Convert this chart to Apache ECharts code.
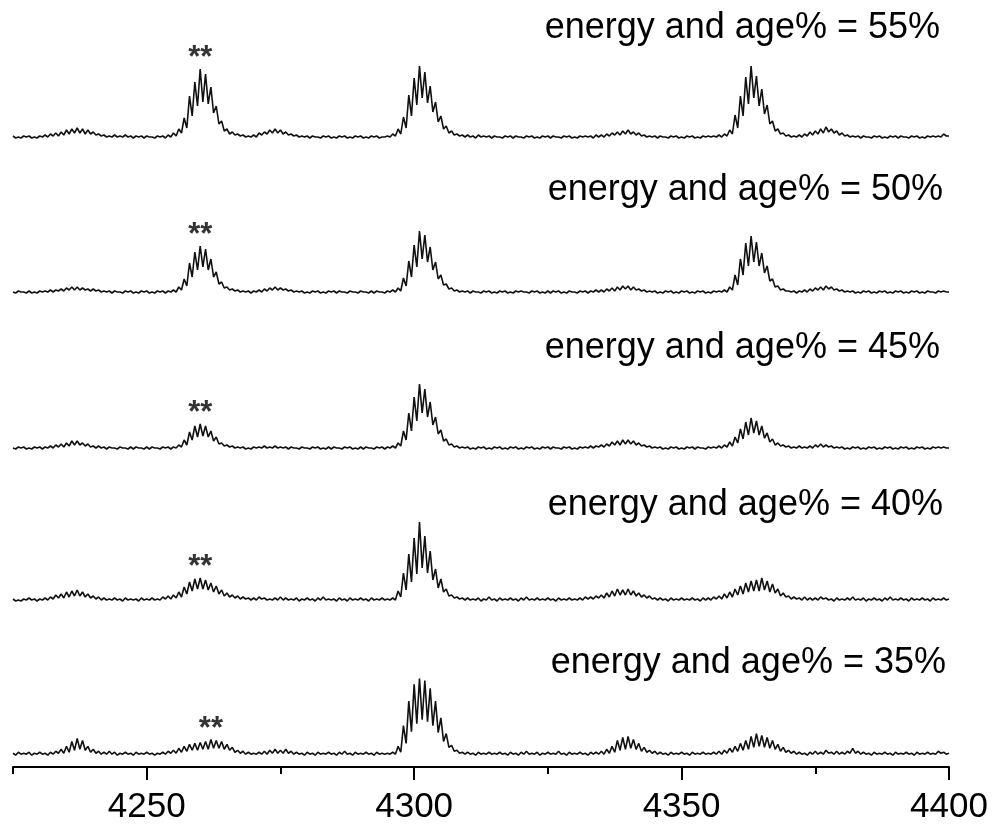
<!DOCTYPE html>
<html>
<head>
<meta charset="utf-8">
<title>energy and age% spectra</title>
<script src="https://cdn.jsdelivr.net/npm/echarts@6/dist/echarts.min.js"></script>
<style>
  html, body { margin: 0; padding: 0; background: #fff; }
  #chart { width: 993px; height: 825px; }
</style>
</head>
<body>
<div id="chart"></div>
<script>
// spectra are sampled from massStart every massStep (Da)
const massStart = 4225;
const massStep = 0.5;
const majorTicks = [4250, 4300, 4350, 4400];
const minorTicks = [4225, 4275, 4325, 4375];
const traceLabels = [
  "energy and age% = 55%",
  "energy and age% = 50%",
  "energy and age% = 45%",
  "energy and age% = 40%",
  "energy and age% = 35%"
];

// one line = 5 Da
const s55 = [
  2,0,1,0,2,1,2,0,1,0,
  2,1,3,1,4,2,5,2,6,3,
  8,4,9,5,10,5,9,4,8,4,
  6,3,4,2,3,1,2,1,3,1,
  2,1,3,1,2,0,2,1,2,0,
  2,1,1,0,2,1,2,0,3,1,
  5,2,9,5,20,10,42,22,56,32,
  69,36,64,34,51,25,32,14,17,7,
  9,4,6,3,4,2,3,1,2,1,
  3,1,5,3,6,4,8,5,9,5,
  8,4,6,3,4,2,3,1,2,1,
  2,0,2,1,1,0,2,1,2,0,
  1,0,2,1,2,0,1,0,2,1,
  2,0,1,0,2,1,2,0,1,1,
  2,1,4,2,9,4,21,10,43,22,
  60,33,72,40,66,35,52,26,36,16,
  22,9,12,5,7,3,4,2,3,1,
  3,1,2,0,3,1,2,1,2,0,
  2,1,1,0,2,1,2,0,2,1,
  1,0,2,1,2,0,1,0,2,1,
  2,0,2,1,1,0,2,1,2,0,
  1,0,2,1,2,1,2,0,3,1,
  3,1,4,2,5,3,6,3,7,4,
  8,4,6,3,5,2,3,1,2,1,
  2,0,2,1,1,0,2,1,2,0,
  1,0,2,1,2,0,1,0,2,1,
  2,1,2,1,3,1,4,2,8,4,
  23,10,42,22,61,34,72,40,62,32,
  49,24,33,14,17,7,9,4,5,2,
  3,1,2,1,3,1,4,2,6,3,
  7,4,9,5,11,6,9,5,7,3,
  5,2,3,1,2,1,2,0,2,1,
  1,0,2,1,2,0,1,0,2,1,
  2,0,2,1,1,0,2,1,2,0,
  1,0,2,1,2,1,2,1,4,2,
  2
];

const s50 = [
  1,0,2,1,1,0,2,0,1,0,
  2,1,2,1,3,1,3,2,4,2,
  5,3,6,3,6,3,5,3,4,2,
  4,2,3,1,2,1,2,0,2,1,
  1,0,2,1,2,0,1,0,2,1,
  2,0,1,0,2,1,2,0,2,1,
  3,1,6,3,14,7,30,16,41,23,
  47,26,44,23,34,16,21,9,11,5,
  6,3,4,2,3,1,2,1,2,0,
  2,1,3,1,4,2,5,3,6,3,
  5,3,4,2,3,1,2,1,2,0,
  1,0,2,1,2,0,1,0,2,1,
  2,0,2,1,1,0,2,1,1,0,
  2,1,1,0,2,0,2,1,1,0,
  2,1,3,1,5,2,15,7,32,16,
  48,26,62,34,58,31,46,23,31,14,
  18,8,9,4,5,2,3,1,2,1,
  2,0,2,1,1,0,2,1,2,0,
  1,0,2,1,2,0,1,0,2,1,
  2,1,1,0,2,1,2,0,1,0,
  2,0,2,1,2,0,1,0,2,1,
  1,0,2,1,2,0,2,1,3,1,
  3,1,4,2,5,2,6,3,7,4,
  7,3,6,3,4,2,3,1,2,1,
  2,0,1,0,2,1,2,0,1,0,
  2,1,2,0,1,0,2,1,2,0,
  1,0,2,1,2,1,3,1,6,3,
  18,8,34,18,50,27,57,31,51,27,
  40,20,27,12,14,6,7,3,4,2,
  2,1,2,0,2,1,3,1,4,2,
  5,3,6,3,7,4,6,3,4,2,
  3,1,2,1,2,0,1,0,2,1,
  2,0,1,0,2,1,2,0,1,0,
  2,1,2,0,1,0,2,1,2,0,
  1,0,2,1,1,0,2,1,2,1,
  1
];

const s45 = [
  1,0,2,1,2,0,1,0,2,1,
  2,0,2,1,3,1,4,2,5,2,
  6,3,8,4,8,4,6,3,5,2,
  3,1,3,1,2,0,2,1,1,0,
  2,1,1,0,2,0,2,1,1,0,
  2,0,2,1,1,0,2,1,2,0,
  2,1,4,2,9,4,17,9,23,12,
  25,13,23,12,18,8,12,5,6,3,
  4,2,3,1,2,1,2,0,1,0,
  2,1,2,1,3,1,2,1,3,1,
  2,1,2,0,2,1,1,0,2,1,
  1,0,2,1,2,0,1,0,2,0,
  2,1,1,0,2,1,2,0,1,0,
  2,0,2,1,1,0,2,1,2,0,
  2,1,3,1,6,3,18,9,36,18,
  52,28,65,36,60,32,47,24,32,15,
  19,8,10,4,5,2,3,1,2,1,
  2,0,1,0,2,1,2,0,1,0,
  2,1,2,0,1,0,2,1,2,0,
  1,0,2,1,2,0,1,0,2,1,
  2,0,2,1,1,0,2,1,2,0,
  1,0,2,1,2,1,3,1,3,2,
  4,2,5,3,7,4,8,4,9,5,
  9,5,8,4,6,3,4,2,3,1,
  2,1,2,0,1,0,2,1,2,0,
  1,0,2,1,2,0,2,1,1,0,
  2,1,2,1,3,1,4,2,7,3,
  12,6,20,10,27,14,31,16,28,14,
  23,11,16,7,10,4,6,3,4,2,
  3,1,2,1,3,1,2,1,3,1,
  4,2,5,2,4,2,3,1,2,1,
  2,0,1,0,2,1,2,0,1,0,
  2,1,2,0,1,0,2,1,2,0,
  1,0,2,1,2,0,1,0,2,1,
  2,0,1,0,2,1,2,1,2,1,
  1
];

const s40 = [
  2,0,1,0,2,1,3,1,2,0,
  2,1,3,1,4,2,6,3,7,3,
  9,4,10,5,11,5,9,4,7,3,
  5,2,4,1,3,1,2,1,3,1,
  2,0,3,1,2,1,2,0,3,1,
  2,1,3,1,2,1,4,2,5,2,
  6,3,9,4,14,7,19,10,22,12,
  23,12,21,11,18,9,15,7,11,5,
  8,4,6,3,5,2,4,2,3,1,
  3,1,4,2,3,1,2,1,3,1,
  4,1,3,1,2,1,3,0,2,1,
  3,1,2,0,3,1,4,1,2,1,
  2,0,3,1,2,0,3,1,2,1,
  3,1,2,0,3,1,2,1,3,1,
  2,1,3,1,10,4,28,11,47,19,
  63,27,79,33,65,28,50,21,32,13,
  22,9,12,5,6,3,4,2,3,1,
  3,1,2,1,3,0,2,1,4,1,
  2,0,3,1,2,1,3,1,2,0,
  3,1,4,1,2,1,3,1,2,1,
  3,1,2,0,3,1,2,1,3,1,
  2,1,3,1,4,2,4,2,5,3,
  6,3,8,4,10,5,12,6,11,6,
  12,6,10,5,8,4,6,3,5,2,
  3,1,3,1,2,0,3,1,2,1,
  3,1,2,1,3,1,2,0,3,1,
  3,1,4,2,5,2,7,3,9,4,
  12,6,15,7,18,9,20,10,21,10,
  23,11,20,9,17,8,12,5,8,4,
  5,2,4,2,3,1,4,1,3,1,
  3,1,4,2,3,1,2,0,3,1,
  2,1,3,1,4,1,2,1,3,0,
  2,1,3,1,2,0,3,1,4,1,
  2,1,3,1,2,0,3,1,2,1,
  3,1,2,0,3,1,2,1,3,1,
  2
];

const s35 = [
  2,0,3,1,2,1,3,0,2,1,
  3,1,2,0,3,1,4,2,6,2,
  9,3,14,5,17,6,15,5,9,3,
  6,2,4,1,3,1,4,1,3,0,
  2,1,3,1,2,0,3,1,2,1,
  3,1,2,0,2,1,3,1,4,2,
  5,2,7,3,9,4,11,5,12,5,
  13,6,14,6,16,7,15,7,14,6,
  11,5,8,3,5,2,4,1,3,1,
  2,1,3,1,4,1,5,2,6,2,
  5,2,6,2,4,1,3,1,2,0,
  3,1,2,0,3,1,2,1,3,1,
  2,0,3,1,4,1,2,0,3,1,
  2,1,3,1,2,0,3,1,2,1,
  2,1,3,1,9,3,30,12,55,24,
  72,32,78,36,76,34,68,30,55,23,
  38,14,22,8,10,4,5,2,3,1,
  3,1,2,0,3,1,2,1,3,1,
  2,1,3,1,2,0,3,1,2,0,
  3,1,4,1,2,1,3,0,2,1,
  3,1,2,1,4,1,2,0,3,1,
  2,1,3,1,2,0,3,1,3,1,
  4,1,6,2,9,3,15,5,18,6,
  19,7,16,6,12,4,8,3,5,2,
  4,1,3,1,2,0,3,1,2,1,
  3,1,2,0,3,1,2,1,3,1,
  2,1,3,1,4,1,5,2,7,3,
  9,4,12,5,15,6,19,8,22,9,
  20,8,18,7,15,6,11,4,8,3,
  5,2,4,1,3,1,2,0,3,1,
  4,1,3,1,5,2,3,1,4,1,
  3,1,4,2,7,2,4,1,3,1,
  2,0,3,1,2,1,3,1,2,0,
  3,1,2,1,3,1,2,0,3,1,
  2,1,3,1,2,1,4,2,3,1,
  2
];

const traces = [s55, s50, s45, s40, s35];

// layout
const gridTops = [30, 185, 341, 493, 649];
const titleTops = [10, 172, 330, 487, 645];
const titleRights = [53, 50, 53, 50, 47];
const font = '"Liberation Sans", Arial, sans-serif';
const ink = "#111";

function toPairs(arr) {
  return arr.map((v, i) => [massStart + i * massStep, v]);
}

// ** sits over the tallest point of the 4250-4270 cluster
function starPoint(arr) {
  let best = null;
  arr.forEach((v, i) => {
    const m = massStart + i * massStep;
    if (m >= 4250 && m <= 4270 && (!best || v > best[1])) best = [m, v];
  });
  return best;
}

const chart = echarts.init(document.getElementById("chart"));

const grid = [], xAxis = [], yAxis = [], series = [], title = [];

traces.forEach((arr, k) => {
  grid.push({ left: 13, right: 44, top: gridTops[k], height: 120 });
  const last = k === traces.length - 1;
  xAxis.push({
    type: "value",
    gridIndex: k,
    min: 4225,
    max: 4400,
    show: last,
    position: "bottom",
    axisLine: { onZero: false, lineStyle: { color: "#000", width: 2 } },
    axisTick: {
      length: 13,
      lineStyle: { color: "#000", width: 2 },
      customValues: majorTicks
    },
    axisLabel: {
      customValues: majorTicks,
      formatter: (v) => String(v),
      margin: 23,
      fontSize: 35,
      color: "#000",
      fontFamily: font
    },
    splitLine: { show: false }
  });
  yAxis.push({
    type: "value",
    gridIndex: k,
    min: -12,
    max: 108,
    show: false
  });
  series.push({
    type: "line",
    xAxisIndex: k,
    yAxisIndex: k,
    data: toPairs(arr),
    showSymbol: false,
    symbol: "none",
    lineStyle: { color: ink, width: 1.6 },
    silent: true
  });
  series.push({
    type: "scatter",
    xAxisIndex: k,
    yAxisIndex: k,
    data: [starPoint(arr)],
    symbolSize: 0,
    label: {
      show: true,
      position: "top",
      distance: -5,
      formatter: "**",
      fontSize: 31,
      fontWeight: "bold",
      color: "#000",
      fontFamily: font
    },
    silent: true
  });
  title.push({
    text: traceLabels[k],
    right: titleRights[k],
    top: titleTops[k],
    padding: 0,
    textStyle: { fontSize: 36, fontWeight: "normal", color: "#000", fontFamily: font }
  });
});

// short ticks in between the labelled ones
xAxis.push({
  type: "value",
  gridIndex: traces.length - 1,
  min: 4225,
  max: 4400,
  position: "bottom",
  axisLine: { show: false, onZero: false },
  axisTick: {
    length: 7,
    lineStyle: { color: "#000", width: 2 },
    customValues: minorTicks
  },
  axisLabel: { show: false },
  splitLine: { show: false }
});

chart.setOption({
  animation: false,
  backgroundColor: "#fff",
  title: title,
  grid: grid,
  xAxis: xAxis,
  yAxis: yAxis,
  series: series
});
</script>
</body>
</html>
